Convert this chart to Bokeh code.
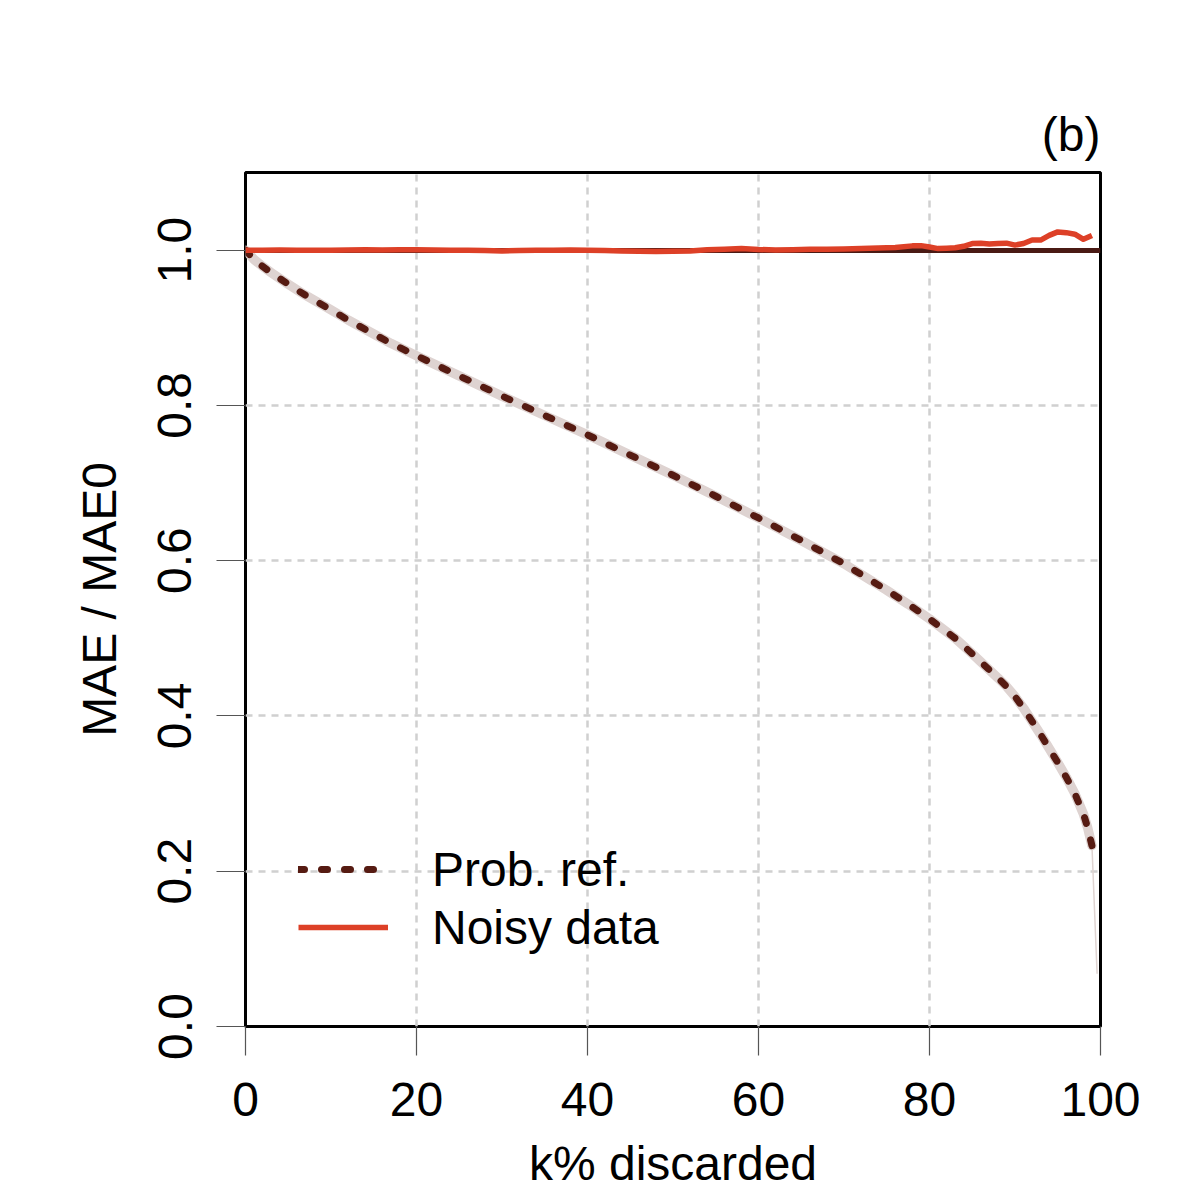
import numpy as np
from bokeh.plotting import figure
from bokeh.models import Range1d, FixedTicker, PrintfTickFormatter, Legend, LegendItem
from bokeh.embed import file_html
from bokeh.resources import INLINE

# ---------------- data ----------------
k_prob = [0, 1, 2, 3, 5, 7, 10, 12, 15, 17, 20, 25, 30, 35, 40, 45, 50, 55, 60,
          65, 70, 75, 77.5, 80, 83, 85, 88, 89, 90, 91, 92, 93, 94, 95, 96, 97, 98,
          98.5, 99]
mae_prob = [1.000, 0.988, 0.979, 0.971, 0.956, 0.942, 0.923, 0.910, 0.892, 0.880,
            0.864, 0.838, 0.812, 0.787, 0.762, 0.736, 0.710, 0.683, 0.655,
            0.626, 0.596, 0.562, 0.544, 0.525, 0.500, 0.480, 0.449, 0.438, 0.425,
            0.410, 0.393, 0.376, 0.358, 0.340, 0.321, 0.300, 0.274, 0.256, 0.233]
k_tail = [99.0, 99.3, 99.6]
mae_tail = [0.233, 0.150, 0.068]

k_noisy = [0, 2, 4, 6, 8, 10, 12, 14, 16, 18, 20, 22, 24, 26, 28, 30, 32, 34, 36,
           38, 40, 42, 44, 46, 48, 50, 52, 54, 56, 58, 60, 62, 64, 66, 68, 70, 72,
           74, 76, 78, 79, 80, 81, 82, 83, 84, 85, 86, 87, 88, 89, 90, 91, 92, 93,
           94, 95, 96, 97, 98, 99]
mae_noisy = [1.0000, 1.0000, 1.0002, 1.0000, 0.9998, 1.0000, 1.0003, 1.0005, 1.0002,
             1.0006, 1.0004, 1.0002, 1.0000, 0.9998, 0.9996, 0.9990, 0.9995, 1.0000,
             1.0000, 1.0002, 0.9998, 0.9995, 0.9988, 0.9985, 0.9982, 0.9985, 0.9990,
             1.0005, 1.0012, 1.0020, 1.0008, 1.0002, 1.0006, 1.0012, 1.0012, 1.0015,
             1.0020, 1.0028, 1.0035, 1.0055, 1.0058, 1.0040, 1.0020, 1.0025, 1.0030,
             1.0050, 1.0085, 1.0088, 1.0078, 1.0085, 1.0090, 1.0065, 1.0085, 1.0130,
             1.0130, 1.0190, 1.0235, 1.0225, 1.0205, 1.0140, 1.0190]
baseline = [1.0]

x_ticks = [0, 20, 40, 60, 80, 100]
y_ticks = [0.0, 0.2, 0.4, 0.6, 0.8, 1.0]
title_text = "(b)"
x_label = "k% discarded"
y_label = "MAE / MAE0"
legend_labels = ["Prob. ref.", "Noisy data"]

# ---------------- styling ----------------
FONT = "Liberation Sans"
FS = "48px"
DARK = "#561b12"
BASE = "#4a1a14"
RED = "#dd4027"
BAND = "#ded3d1"

p = figure(width=1192, height=1192, output_backend="svg", toolbar_location=None,
           x_range=Range1d(0, 100), y_range=Range1d(0, 1.1),
           min_border_left=245, min_border_right=92,
           min_border_top=172, min_border_bottom=166)

p.background_fill_color = "white"
p.border_fill_color = "white"
p.outline_line_color = "black"
p.outline_line_width = 3

p.title.text = title_text
p.title.align = "right"
p.title.text_font = FONT
p.title.text_font_size = FS
p.title.text_font_style = "normal"
p.title.text_color = "black"
p.title.standoff = 24

p.xaxis.ticker = FixedTicker(ticks=x_ticks)
p.yaxis.ticker = FixedTicker(ticks=y_ticks)
p.yaxis.formatter = PrintfTickFormatter(format="%.1f")
p.yaxis.major_label_orientation = "vertical"
p.xaxis.axis_label = x_label
p.yaxis.axis_label = y_label

for ax in (p.xaxis[0], p.yaxis[0]):
    ax.axis_line_color = None
    ax.major_tick_line_color = "#555555"
    ax.major_tick_line_width = 1.2
    ax.major_tick_out = 29
    ax.major_tick_in = 0
    ax.minor_tick_line_color = None
    ax.major_label_text_font = FONT
    ax.major_label_text_font_size = FS
    ax.major_label_text_color = "black"
    ax.axis_label_text_font = FONT
    ax.axis_label_text_font_size = FS
    ax.axis_label_text_font_style = "normal"
    ax.axis_label_text_color = "black"

p.xaxis.major_label_standoff = 27
p.yaxis.major_label_standoff = 25
p.xaxis.axis_label_standoff = 18
p.yaxis.axis_label_standoff = 30

for g in (p.xgrid[0], p.ygrid[0]):
    g.grid_line_color = "#d0d0d0"
    g.grid_line_width = 2.5
    g.grid_line_dash = "7 6"

# band around the reference curve
p.line(k_prob, mae_prob, line_color=BAND, line_width=9.5, line_join="round", line_cap="round")
p.line(k_tail, mae_tail, line_color=BAND, line_width=1.5)

# baseline at 1.0
p.hspan(y=baseline, line_color=BASE, line_width=5)

# prob ref dotted
r_prob = p.line(k_prob, mae_prob, line_color=DARK, line_width=7, line_dash="6 17",
                line_cap="round", line_join="round")

# noisy data
r_noisy = p.line(k_noisy, mae_noisy, line_color=RED, line_width=5.5, line_join="round")

legend = Legend(items=[LegendItem(label=legend_labels[0], renderers=[r_prob]),
                       LegendItem(label=legend_labels[1], renderers=[r_noisy])],
                location=(53, 70))
legend.border_line_color = None
legend.background_fill_alpha = 0
legend.padding = 0
legend.margin = 0
legend.spacing = 0
legend.glyph_width = 90
legend.glyph_height = 58
legend.label_height = 58
legend.label_standoff = 44
legend.label_text_font = FONT
legend.label_text_font_size = FS
legend.label_text_color = "black"
p.add_layout(legend)

open("out.html", "w").write(file_html(p, INLINE))
